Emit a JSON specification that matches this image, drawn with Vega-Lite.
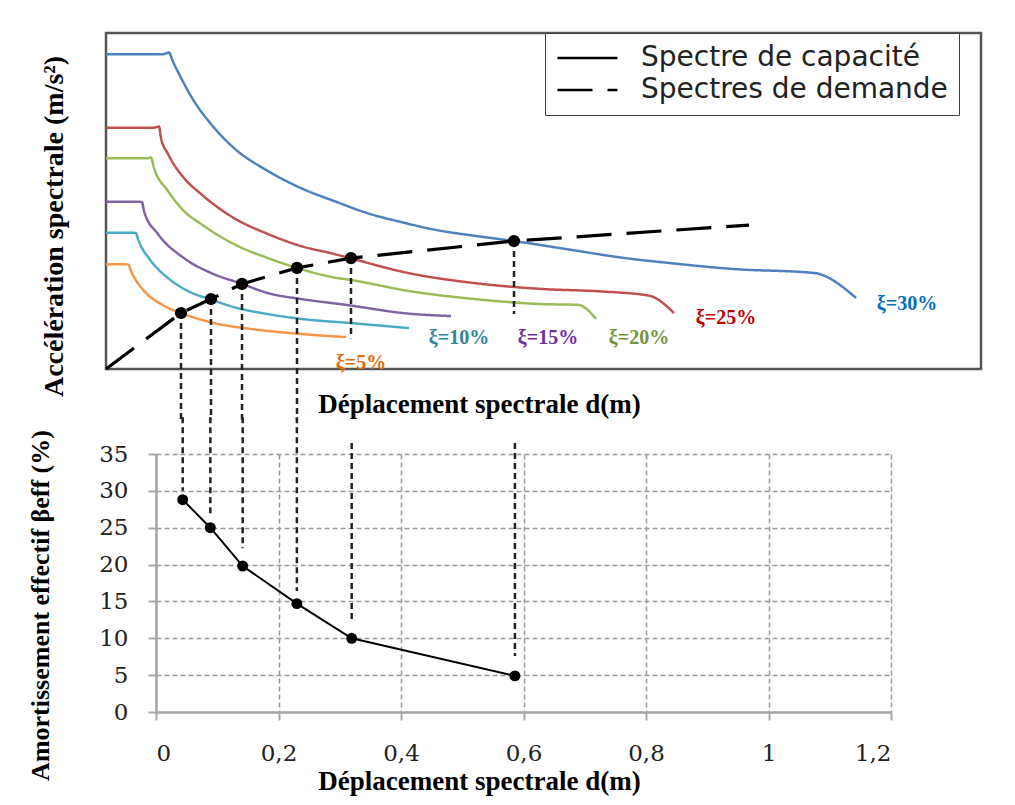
{
  "$schema": "https://vega.github.io/schema/vega-lite/v6.json",
  "background": "white",
  "padding": {"left": 27, "top": 31, "right": 5, "bottom": 5},
  "config": {"font": "Liberation Serif", "view": {"stroke": null}},
  "bounds": "flush",
  "spacing": 85,
  "vconcat": [
    {
      "width": 875,
      "height": 336,
      "view": {"stroke": "#555555", "strokeWidth": 2.5},
      "resolve": {"scale": {"color": "independent"}},
      "layer": [
        {
          "data": {"values": [
            {"xi": "ξ=30%", "Sd": 0, "Sa": 11.24, "type": "Spectre de capacité"},
            {"xi": "ξ=30%", "Sd": 0.0907, "Sa": 11.24, "type": "Spectre de capacité"},
            {"xi": "ξ=30%", "Sd": 0.1008, "Sa": 11.3, "type": "Spectre de capacité"},
            {"xi": "ξ=30%", "Sd": 0.1067, "Sa": 11.0, "type": "Spectre de capacité"},
            {"xi": "ξ=30%", "Sd": 0.12, "Sa": 10.4, "type": "Spectre de capacité"},
            {"xi": "ξ=30%", "Sd": 0.1408, "Sa": 9.57, "type": "Spectre de capacité"},
            {"xi": "ξ=30%", "Sd": 0.168, "Sa": 8.75, "type": "Spectre de capacité"},
            {"xi": "ξ=30%", "Sd": 0.2048, "Sa": 7.89, "type": "Spectre de capacité"},
            {"xi": "ξ=30%", "Sd": 0.2592, "Sa": 7.07, "type": "Spectre de capacité"},
            {"xi": "ξ=30%", "Sd": 0.312, "Sa": 6.46, "type": "Spectre de capacité"},
            {"xi": "ξ=30%", "Sd": 0.3648, "Sa": 6.0, "type": "Spectre de capacité"},
            {"xi": "ξ=30%", "Sd": 0.4192, "Sa": 5.56, "type": "Spectre de capacité"},
            {"xi": "ξ=30%", "Sd": 0.472, "Sa": 5.25, "type": "Spectre de capacité"},
            {"xi": "ξ=30%", "Sd": 0.5248, "Sa": 4.98, "type": "Spectre de capacité"},
            {"xi": "ξ=30%", "Sd": 0.5888, "Sa": 4.76, "type": "Spectre de capacité"},
            {"xi": "ξ=30%", "Sd": 0.6528, "Sa": 4.57, "type": "Spectre de capacité"},
            {"xi": "ξ=30%", "Sd": 0.7488, "Sa": 4.24, "type": "Spectre de capacité"},
            {"xi": "ξ=30%", "Sd": 0.824, "Sa": 3.98, "type": "Spectre de capacité"},
            {"xi": "ξ=30%", "Sd": 0.8992, "Sa": 3.79, "type": "Spectre de capacité"},
            {"xi": "ξ=30%", "Sd": 1.0048, "Sa": 3.57, "type": "Spectre de capacité"},
            {"xi": "ξ=30%", "Sd": 1.1328, "Sa": 3.43, "type": "Spectre de capacité"},
            {"xi": "ξ=30%", "Sd": 1.2, "Sa": 2.54, "type": "Spectre de capacité"},
            {"xi": "ξ=25%", "Sd": 0, "Sa": 8.62, "type": "Spectre de capacité"},
            {"xi": "ξ=25%", "Sd": 0.0768, "Sa": 8.62, "type": "Spectre de capacité"},
            {"xi": "ξ=25%", "Sd": 0.0848, "Sa": 8.66, "type": "Spectre de capacité"},
            {"xi": "ξ=25%", "Sd": 0.088, "Sa": 8.25, "type": "Spectre de capacité"},
            {"xi": "ξ=25%", "Sd": 0.0992, "Sa": 7.68, "type": "Spectre de capacité"},
            {"xi": "ξ=25%", "Sd": 0.1248, "Sa": 6.82, "type": "Spectre de capacité"},
            {"xi": "ξ=25%", "Sd": 0.152, "Sa": 6.25, "type": "Spectre de capacité"},
            {"xi": "ξ=25%", "Sd": 0.2048, "Sa": 5.39, "type": "Spectre de capacité"},
            {"xi": "ξ=25%", "Sd": 0.2592, "Sa": 4.82, "type": "Spectre de capacité"},
            {"xi": "ξ=25%", "Sd": 0.312, "Sa": 4.39, "type": "Spectre de capacité"},
            {"xi": "ξ=25%", "Sd": 0.3648, "Sa": 4.11, "type": "Spectre de capacité"},
            {"xi": "ξ=25%", "Sd": 0.392, "Sa": 3.95, "type": "Spectre de capacité"},
            {"xi": "ξ=25%", "Sd": 0.4832, "Sa": 3.43, "type": "Spectre de capacité"},
            {"xi": "ξ=25%", "Sd": 0.5888, "Sa": 3.07, "type": "Spectre de capacité"},
            {"xi": "ξ=25%", "Sd": 0.696, "Sa": 2.86, "type": "Spectre de capacité"},
            {"xi": "ξ=25%", "Sd": 0.792, "Sa": 2.77, "type": "Spectre de capacité"},
            {"xi": "ξ=25%", "Sd": 0.8688, "Sa": 2.62, "type": "Spectre de capacité"},
            {"xi": "ξ=25%", "Sd": 0.9088, "Sa": 2.0, "type": "Spectre de capacité"},
            {"xi": "ξ=20%", "Sd": 0, "Sa": 7.53, "type": "Spectre de capacité"},
            {"xi": "ξ=20%", "Sd": 0.0667, "Sa": 7.53, "type": "Spectre de capacité"},
            {"xi": "ξ=20%", "Sd": 0.072, "Sa": 7.55, "type": "Spectre de capacité"},
            {"xi": "ξ=20%", "Sd": 0.0768, "Sa": 7.18, "type": "Spectre de capacité"},
            {"xi": "ξ=20%", "Sd": 0.0992, "Sa": 6.36, "type": "Spectre de capacité"},
            {"xi": "ξ=20%", "Sd": 0.1248, "Sa": 5.64, "type": "Spectre de capacité"},
            {"xi": "ξ=20%", "Sd": 0.152, "Sa": 5.18, "type": "Spectre de capacité"},
            {"xi": "ξ=20%", "Sd": 0.2048, "Sa": 4.46, "type": "Spectre de capacité"},
            {"xi": "ξ=20%", "Sd": 0.2592, "Sa": 3.96, "type": "Spectre de capacité"},
            {"xi": "ξ=20%", "Sd": 0.3056, "Sa": 3.61, "type": "Spectre de capacité"},
            {"xi": "ξ=20%", "Sd": 0.3648, "Sa": 3.27, "type": "Spectre de capacité"},
            {"xi": "ξ=20%", "Sd": 0.392, "Sa": 3.18, "type": "Spectre de capacité"},
            {"xi": "ξ=20%", "Sd": 0.4832, "Sa": 2.79, "type": "Spectre de capacité"},
            {"xi": "ξ=20%", "Sd": 0.5888, "Sa": 2.5, "type": "Spectre de capacité"},
            {"xi": "ξ=20%", "Sd": 0.696, "Sa": 2.32, "type": "Spectre de capacité"},
            {"xi": "ξ=20%", "Sd": 0.7552, "Sa": 2.29, "type": "Spectre de capacité"},
            {"xi": "ξ=20%", "Sd": 0.784, "Sa": 1.79, "type": "Spectre de capacité"},
            {"xi": "ξ=15%", "Sd": 0, "Sa": 5.975, "type": "Spectre de capacité"},
            {"xi": "ξ=15%", "Sd": 0.0528, "Sa": 5.975, "type": "Spectre de capacité"},
            {"xi": "ξ=15%", "Sd": 0.0576, "Sa": 5.96, "type": "Spectre de capacité"},
            {"xi": "ξ=15%", "Sd": 0.0608, "Sa": 5.64, "type": "Spectre de capacité"},
            {"xi": "ξ=15%", "Sd": 0.0832, "Sa": 4.82, "type": "Spectre de capacité"},
            {"xi": "ξ=15%", "Sd": 0.1248, "Sa": 3.96, "type": "Spectre de capacité"},
            {"xi": "ξ=15%", "Sd": 0.168, "Sa": 3.43, "type": "Spectre de capacité"},
            {"xi": "ξ=15%", "Sd": 0.2176, "Sa": 3.04, "type": "Spectre de capacité"},
            {"xi": "ξ=15%", "Sd": 0.2592, "Sa": 2.71, "type": "Spectre de capacité"},
            {"xi": "ξ=15%", "Sd": 0.312, "Sa": 2.5, "type": "Spectre de capacité"},
            {"xi": "ξ=15%", "Sd": 0.384, "Sa": 2.29, "type": "Spectre de capacité"},
            {"xi": "ξ=15%", "Sd": 0.4832, "Sa": 1.98, "type": "Spectre de capacité"},
            {"xi": "ξ=15%", "Sd": 0.552, "Sa": 1.89, "type": "Spectre de capacité"},
            {"xi": "ξ=10%", "Sd": 0, "Sa": 4.87, "type": "Spectre de capacité"},
            {"xi": "ξ=10%", "Sd": 0.0427, "Sa": 4.87, "type": "Spectre de capacité"},
            {"xi": "ξ=10%", "Sd": 0.048, "Sa": 4.85, "type": "Spectre de capacité"},
            {"xi": "ξ=10%", "Sd": 0.0512, "Sa": 4.64, "type": "Spectre de capacité"},
            {"xi": "ξ=10%", "Sd": 0.072, "Sa": 3.86, "type": "Spectre de capacité"},
            {"xi": "ξ=10%", "Sd": 0.0992, "Sa": 3.25, "type": "Spectre de capacité"},
            {"xi": "ξ=10%", "Sd": 0.128, "Sa": 2.82, "type": "Spectre de capacité"},
            {"xi": "ξ=10%", "Sd": 0.168, "Sa": 2.48, "type": "Spectre de capacité"},
            {"xi": "ξ=10%", "Sd": 0.2048, "Sa": 2.21, "type": "Spectre de capacité"},
            {"xi": "ξ=10%", "Sd": 0.2592, "Sa": 1.96, "type": "Spectre de capacité"},
            {"xi": "ξ=10%", "Sd": 0.312, "Sa": 1.79, "type": "Spectre de capacité"},
            {"xi": "ξ=10%", "Sd": 0.392, "Sa": 1.64, "type": "Spectre de capacité"},
            {"xi": "ξ=10%", "Sd": 0.4848, "Sa": 1.46, "type": "Spectre de capacité"},
            {"xi": "ξ=5%", "Sd": 0, "Sa": 3.74, "type": "Spectre de capacité"},
            {"xi": "ξ=5%", "Sd": 0.032, "Sa": 3.74, "type": "Spectre de capacité"},
            {"xi": "ξ=5%", "Sd": 0.036, "Sa": 3.72, "type": "Spectre de capacité"},
            {"xi": "ξ=5%", "Sd": 0.04, "Sa": 3.5, "type": "Spectre de capacité"},
            {"xi": "ξ=5%", "Sd": 0.0608, "Sa": 2.79, "type": "Spectre de capacité"},
            {"xi": "ξ=5%", "Sd": 0.088, "Sa": 2.32, "type": "Spectre de capacité"},
            {"xi": "ξ=5%", "Sd": 0.12, "Sa": 2.0, "type": "Spectre de capacité"},
            {"xi": "ξ=5%", "Sd": 0.1792, "Sa": 1.61, "type": "Spectre de capacité"},
            {"xi": "ξ=5%", "Sd": 0.232, "Sa": 1.43, "type": "Spectre de capacité"},
            {"xi": "ξ=5%", "Sd": 0.312, "Sa": 1.25, "type": "Spectre de capacité"},
            {"xi": "ξ=5%", "Sd": 0.384, "Sa": 1.14, "type": "Spectre de capacité"}
          ]},
          "mark": {"type": "line", "strokeWidth": 2.5, "interpolate": "monotone"},
          "encoding": {
            "x": {"field": "Sd", "type": "quantitative",
              "scale": {"domain": [0, 1.4], "nice": false, "zero": false},
              "axis": {"title": "Déplacement spectrale d(m)", "domain": false, "ticks": false, "labels": false, "grid": false,
                "titleX": 373, "titleY": 35, "titleBaseline": "middle", "titleFont": "Liberation Serif", "titleFontSize": 27, "titleFontWeight": "bold", "titleColor": "black"}},
            "y": {"field": "Sa", "type": "quantitative",
              "scale": {"domain": [0, 12], "nice": false},
              "axis": {"title": "Accélération spectrale  (m/s²)", "domain": false, "ticks": false, "labels": false, "grid": false,
                "titleX": -38, "titleY": 193, "titleFont": "Liberation Serif", "titleFontSize": 28, "titleFontWeight": "bold", "titleColor": "black"}},
            "color": {"field": "xi", "type": "nominal",
              "scale": {"domain": ["ξ=5%", "ξ=10%", "ξ=15%", "ξ=20%", "ξ=25%", "ξ=30%"],
                "range": ["#f79646", "#4bacc6", "#8064a2", "#9bbb59", "#c0504d", "#4f81bd"]},
              "legend": null},
            "strokeDash": {"field": "type", "type": "nominal",
              "scale": {"domain": ["Spectre de capacité", "Spectres de demande"], "range": [[1, 0], [35, 15]]},
              "legend": {"title": null, "orient": "none", "legendX": 439, "legendY": 0,
                "strokeColor": "#404040", "fillColor": "white", "padding": 11,
                "symbolType": "stroke", "symbolSize": 3600, "symbolStrokeWidth": 2.5, "symbolStrokeColor": "black",
                "labelFont": "DejaVu Sans", "labelFontSize": 28, "labelColor": "#222", "labelOffset": 22,
                "clipHeight": 28, "rowPadding": 4, "labelLimit": 400}}
          }
        },
        {
          "data": {"values": [
            {"Sd": 0, "Sa": 0, "type": "Spectres de demande"},
            {"Sd": 0.12, "Sa": 2.0, "type": "Spectres de demande"},
            {"Sd": 0.168, "Sa": 2.5, "type": "Spectres de demande"},
            {"Sd": 0.2176, "Sa": 3.04, "type": "Spectres de demande"},
            {"Sd": 0.3056, "Sa": 3.61, "type": "Spectres de demande"},
            {"Sd": 0.392, "Sa": 3.96, "type": "Spectres de demande"},
            {"Sd": 0.6528, "Sa": 4.57, "type": "Spectres de demande"},
            {"Sd": 1.0288, "Sa": 5.14, "type": "Spectres de demande"}
          ]},
          "mark": {"type": "line", "strokeWidth": 3.2, "color": "black"},
          "encoding": {
            "x": {"field": "Sd", "type": "quantitative"},
            "y": {"field": "Sa", "type": "quantitative"},
            "strokeDash": {"field": "type", "type": "nominal"}
          }
        },
        {
          "data": {"values": [
            {"Sd": 0.12, "Sa": 2.0, "Sa2": -1.8},
            {"Sd": 0.168, "Sa": 2.5, "Sa2": -1.8},
            {"Sd": 0.2176, "Sa": 3.04, "Sa2": -1.8},
            {"Sd": 0.3056, "Sa": 3.61, "Sa2": -1.8},
            {"Sd": 0.392, "Sa": 3.96, "Sa2": 1.1},
            {"Sd": 0.6528, "Sa": 4.57, "Sa2": 1.96}
          ]},
          "mark": {"type": "rule", "color": "#222222", "strokeWidth": 2.5, "strokeDash": [6, 4]},
          "encoding": {
            "x": {"field": "Sd", "type": "quantitative"},
            "y": {"field": "Sa", "type": "quantitative"},
            "y2": {"field": "Sa2"}
          }
        },
        {
          "data": {"values": [
            {"Sd": 0.12, "Sa": 2.0},
            {"Sd": 0.168, "Sa": 2.5},
            {"Sd": 0.2176, "Sa": 3.04},
            {"Sd": 0.3056, "Sa": 3.61},
            {"Sd": 0.392, "Sa": 3.96},
            {"Sd": 0.6528, "Sa": 4.57}
          ]},
          "mark": {"type": "circle", "color": "black", "size": 150, "opacity": 1},
          "encoding": {
            "x": {"field": "Sd", "type": "quantitative"},
            "y": {"field": "Sa", "type": "quantitative"}
          }
        },
        {
          "data": {"values": [
            {"xi": "ξ=30%", "Sd": 1.2816, "Sa": 2.32},
            {"xi": "ξ=25%", "Sd": 0.992, "Sa": 1.82},
            {"xi": "ξ=20%", "Sd": 0.8528, "Sa": 1.107},
            {"xi": "ξ=15%", "Sd": 0.7072, "Sa": 1.107},
            {"xi": "ξ=10%", "Sd": 0.5648, "Sa": 1.107},
            {"xi": "ξ=5%", "Sd": 0.408, "Sa": 0.214}
          ]},
          "mark": {"type": "text", "font": "Liberation Serif", "fontSize": 20, "fontWeight": "bold", "align": "center", "baseline": "middle"},
          "encoding": {
            "x": {"field": "Sd", "type": "quantitative"},
            "y": {"field": "Sa", "type": "quantitative"},
            "text": {"field": "xi"},
            "color": {"field": "xi", "type": "nominal",
              "scale": {"domain": ["ξ=5%", "ξ=10%", "ξ=15%", "ξ=20%", "ξ=25%", "ξ=30%"],
                "range": ["#e36c09", "#31849b", "#7030a0", "#76923c", "#c00000", "#0070c0"]},
              "legend": null}
          }
        }
      ]
    },
    {
      "width": 785,
      "height": 258,
      "encoding": {
        "x": {"field": "d", "type": "quantitative",
          "scale": {"domain": [0, 1.2], "range": [50, 785], "nice": false, "zero": false},
          "axis": {"title": "Déplacement spectrale d(m)", "values": [0, 0.2, 0.4, 0.6, 0.8, 1, 1.2],
            "labelExpr": "replace(format(datum.value, '.1~f'), '.', ',')",
            "labelFont": "DejaVu Serif", "labelFontSize": 23, "labelColor": "#222222", "labelPadding": 22,
            "tickSize": 8, "tickColor": "#a6a6a6", "tickWidth": 2,
            "domainColor": "#a6a6a6", "domainWidth": 2.5,
            "grid": true, "gridColor": "#9a9a9a", "gridDash": [5, 3], "gridWidth": 1.5,
            "titleX": 373, "titleY": 69, "titleBaseline": "middle", "titleFont": "Liberation Serif", "titleFontSize": 27, "titleFontWeight": "bold", "titleColor": "black"}}
      },
      "layer": [
        {
          "data": {"values": [
            {"d": 0.0436, "b1": 40, "b2": 30.0},
            {"d": 0.0887, "b1": 40, "b2": 26.9},
            {"d": 0.1415, "b1": 40, "b2": 22.2},
            {"d": 0.23, "b1": 40, "b2": 16.4},
            {"d": 0.3195, "b1": 36.5, "b2": 12.3},
            {"d": 0.586, "b1": 36.5, "b2": 7.6}
          ]},
          "mark": {"type": "rule", "color": "#222222", "strokeWidth": 2.5, "strokeDash": [6, 4]},
          "encoding": {
            "y": {"field": "b1", "type": "quantitative",
              "scale": {"domain": [0, 35], "nice": false},
              "axis": {"title": "Amortissement effectif βeff (%)", "values": [0, 5, 10, 15, 20, 25, 30, 35], "offset": -50,
                "labelFont": "DejaVu Serif", "labelFontSize": 23, "labelColor": "#222222", "labelPadding": 20, "labelOverlap": false,
                "tickSize": 8, "tickColor": "#a6a6a6", "tickWidth": 2,
                "domainColor": "#a6a6a6", "domainWidth": 2.5,
                "grid": true, "gridColor": "#9a9a9a", "gridDash": [5, 3], "gridWidth": 1.5,
                "titleX": -103, "titleY": 151, "titleFont": "Liberation Serif", "titleFontSize": 26, "titleFontWeight": "bold", "titleColor": "black"}},
            "y2": {"field": "b2"}
          }
        },
        {
          "data": {"values": [
            {"d": 0.0436, "beta": 28.8},
            {"d": 0.0887, "beta": 25.0},
            {"d": 0.1415, "beta": 19.8},
            {"d": 0.23, "beta": 14.7},
            {"d": 0.3195, "beta": 10.0},
            {"d": 0.586, "beta": 4.9}
          ]},
          "mark": {"type": "line", "color": "black", "strokeWidth": 2, "point": {"filled": true, "size": 120, "color": "black"}},
          "encoding": {
            "y": {"field": "beta", "type": "quantitative",
              "scale": {"domain": [0, 35], "nice": false},
              "axis": {"title": "Amortissement effectif βeff (%)", "values": [0, 5, 10, 15, 20, 25, 30, 35], "offset": -50,
                "labelFont": "DejaVu Serif", "labelFontSize": 23, "labelColor": "#222222", "labelPadding": 20, "labelOverlap": false,
                "tickSize": 8, "tickColor": "#a6a6a6", "tickWidth": 2,
                "domainColor": "#a6a6a6", "domainWidth": 2.5,
                "grid": true, "gridColor": "#9a9a9a", "gridDash": [5, 3], "gridWidth": 1.5,
                "titleX": -103, "titleY": 151, "titleFont": "Liberation Serif", "titleFontSize": 26, "titleFontWeight": "bold", "titleColor": "black"}}
          }
        }
      ]
    }
  ]
}
